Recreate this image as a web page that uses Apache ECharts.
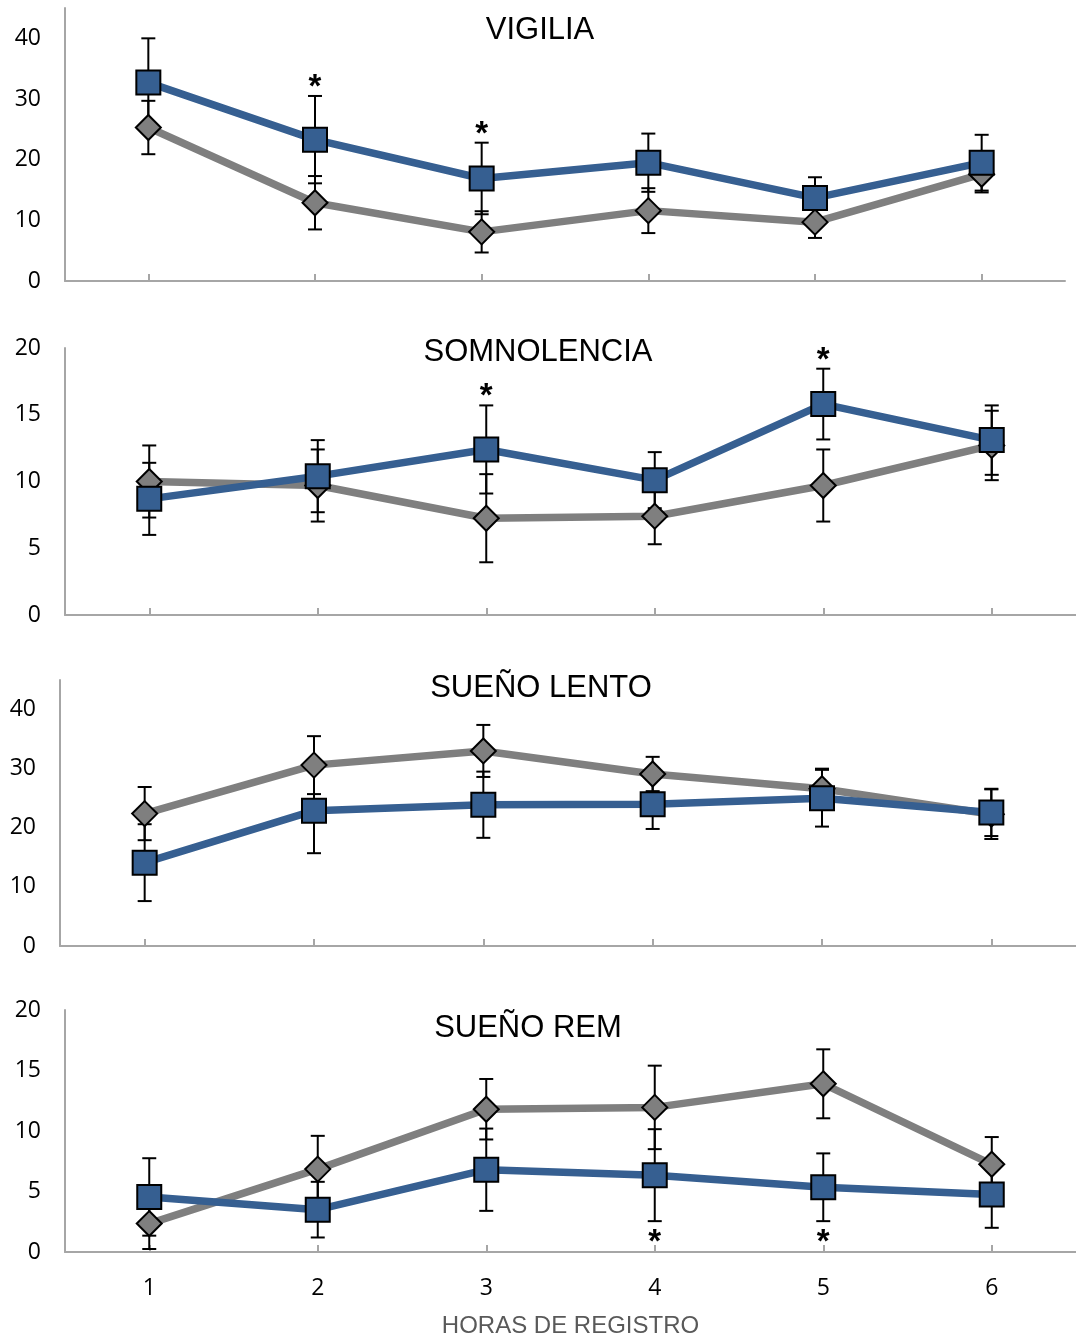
<!DOCTYPE html>
<html>
<head>
<meta charset="utf-8">
<script src="https://cdn.jsdelivr.net/npm/echarts@6/dist/echarts.min.js"></script>
<style>
  html, body { margin: 0; padding: 0; background: #fff; }
  #chart { width: 1076px; height: 1339px; }
</style>
</head>
<body>
<div id="chart"></div>
<script>
// Horas de registro (eje X compartido)
const hours = ['1', '2', '3', '4', '5', '6'];

// VIGILIA
const vigBlue = [32.7, 23.3, 16.9, 19.5, 13.7, 19.5];
const vigBlueErr = [7.3, 7.2, 5.9, 4.8, 3.4, 4.6];
const vigGray = [25.3, 12.9, 8.1, 11.6, 9.7, 17.6];
const vigGrayErr = [4.4, 4.4, 3.4, 3.7, 2.6, 3.0];
const vigSig = [0, 1, 1, 0, 0, 0];

// SOMNOLENCIA
const somBlue = [8.7, 10.4, 12.4, 10.1, 15.8, 13.1];
const somBlueErr = [2.7, 2.7, 3.3, 2.1, 2.65, 2.6];
const somGray = [10.0, 9.7, 7.25, 7.4, 9.7, 12.7];
const somGrayErr = [2.7, 2.7, 3.3, 2.1, 2.7, 2.6];
const somSig = [0, 0, 1, 0, 1, 0];

// SUEÑO LENTO
const lenBlue = [14.1, 22.9, 23.9, 24.0, 25.0, 22.6];
const lenBlueErr = [6.5, 7.2, 5.6, 4.2, 4.8, 4.0];
const lenGray = [22.4, 30.6, 33.0, 29.1, 26.6, 22.3];
const lenGrayErr = [4.5, 4.9, 4.4, 2.9, 3.4, 4.2];
const lenSig = [0, 0, 0, 0, 0, 0];

// SUEÑO REM
const remBlue = [4.55, 3.5, 6.8, 6.35, 5.35, 4.75];
const remBlueErr = [3.2, 2.3, 3.4, 3.8, 2.8, 2.75];
const remGray = [2.35, 6.85, 11.8, 11.95, 13.9, 7.25];
const remGrayErr = [2.1, 2.75, 2.5, 3.45, 2.85, 2.25];
const remSig = [0, 0, 0, 1, 1, 0];

// Ticks del eje Y
const yTicksLarge = { max: 45, interval: 10 };
const yTicksSmall = { max: 20, interval: 5 };

const BLUE = '#365F91';
const GRAY = '#7F7F7F';
const AXIS = '#A6A6A6';

const panels = [
  { title: 'VIGILIA', blue: vigBlue, blueErr: vigBlueErr, gray: vigGray, grayErr: vigGrayErr,
    sig: vigSig, sigSide: 'above', ticks: yTicksLarge,
    grid: { left: 65, right: 11, top: 8, height: 273 }, titleAt: [540, 30] },
  { title: 'SOMNOLENCIA', blue: somBlue, blueErr: somBlueErr, gray: somGray, grayErr: somGrayErr,
    sig: somSig, sigSide: 'above', ticks: yTicksSmall,
    grid: { left: 65, right: -4, top: 348, height: 267 }, titleAt: [538, 352] },
  { title: 'SUEÑO LENTO', blue: lenBlue, blueErr: lenBlueErr, gray: lenGray, grayErr: lenGrayErr,
    sig: lenSig, sigSide: 'above', ticks: yTicksLarge,
    grid: { left: 60, right: -5, top: 680, height: 266 }, titleAt: [541, 688] },
  { title: 'SUEÑO REM', blue: remBlue, blueErr: remBlueErr, gray: remGray, grayErr: remGrayErr,
    sig: remSig, sigSide: 'below', ticks: yTicksSmall,
    grid: { left: 65, right: 0, top: 1010, height: 242 }, titleAt: [528, 1028] }
];

const labelFont = '"Open Sans", "Noto Sans", sans-serif';

function renderErrorBar(params, api) {
  const i = api.value(0);
  const lo = api.coord([i, api.value(1)]);
  const hi = api.coord([i, api.value(2)]);
  const cap = 7;
  const st = { stroke: '#000', lineWidth: 2 };
  return {
    type: 'group',
    children: [
      { type: 'line', shape: { x1: lo[0], y1: lo[1], x2: hi[0], y2: hi[1] }, style: st },
      { type: 'line', shape: { x1: lo[0] - cap, y1: lo[1], x2: lo[0] + cap, y2: lo[1] }, style: st },
      { type: 'line', shape: { x1: hi[0] - cap, y1: hi[1], x2: hi[0] + cap, y2: hi[1] }, style: st }
    ]
  };
}

function renderStar(params, api) {
  const i = api.value(0);
  const p = api.coord([i, api.value(1)]);
  const dir = api.value(2);
  const dy = dir > 0 ? -16 : 14;
  return {
    type: 'text',
    x: p[0],
    y: p[1] + dy + 8,
    style: {
      text: '*',
      textAlign: 'center',
      textVerticalAlign: 'middle',
      font: 'bold 33px "Liberation Sans", Arial, sans-serif',
      fill: '#000'
    }
  };
}

const grids = [], xAxes = [], yAxes = [], series = [], graphics = [];

panels.forEach((p, k) => {
  const last = k === panels.length - 1;
  grids.push(p.grid);
  xAxes.push({
    type: 'category', gridIndex: k, data: hours, boundaryGap: true,
    axisLine: { show: true, lineStyle: { color: AXIS, width: 2 } },
    axisTick: { show: true, alignWithLabel: true, inside: true, length: 7, lineStyle: { color: AXIS, width: 2 } },
    axisLabel: { show: last, margin: 25, fontSize: 23, color: '#000', fontFamily: labelFont },
    name: last ? 'HORAS DE REGISTRO' : '',
    nameLocation: 'middle', nameGap: 62,
    nameTextStyle: { fontSize: 24, color: '#595959', fontFamily: '"Liberation Sans", Arial, sans-serif' }
  });
  const iv = p.ticks.interval;
  yAxes.push({
    type: 'value', gridIndex: k, min: 0, max: p.ticks.max, interval: iv,
    axisLine: { show: true, lineStyle: { color: AXIS, width: 2 } },
    axisTick: { show: false },
    splitLine: { show: false },
    axisLabel: {
      margin: 24, fontSize: 23, color: '#000', fontFamily: labelFont,
      formatter: v => (v % iv === 0 ? String(v) : '')
    }
  });

  const errData = (m, e) => m.map((v, i) => [i, v - e[i], v + e[i]]);
  series.push({
    type: 'custom', xAxisIndex: k, yAxisIndex: k, z: 1, silent: true,
    renderItem: renderErrorBar, data: errData(p.gray, p.grayErr), encode: { x: 0, y: [1, 2] }
  });
  series.push({
    type: 'custom', xAxisIndex: k, yAxisIndex: k, z: 1, silent: true,
    renderItem: renderErrorBar, data: errData(p.blue, p.blueErr), encode: { x: 0, y: [1, 2] }
  });
  series.push({
    type: 'line', xAxisIndex: k, yAxisIndex: k, z: 2, silent: true,
    data: p.gray, symbol: 'diamond', symbolSize: 25, showSymbol: true,
    lineStyle: { color: GRAY, width: 7.5 },
    itemStyle: { color: GRAY, borderColor: '#000', borderWidth: 2 },
    emphasis: { disabled: true }
  });
  series.push({
    type: 'line', xAxisIndex: k, yAxisIndex: k, z: 3, silent: true,
    data: p.blue, symbol: 'rect', symbolSize: 24, showSymbol: true,
    lineStyle: { color: BLUE, width: 7.5 },
    itemStyle: { color: BLUE, borderColor: '#000', borderWidth: 2 },
    emphasis: { disabled: true }
  });
  // asteriscos de significancia sobre/bajo la barra de error de la serie azul
  const starData = [];
  p.sig.forEach((s, i) => {
    if (!s) return;
    if (p.sigSide === 'above') starData.push([i, p.blue[i] + p.blueErr[i], 1]);
    else starData.push([i, p.blue[i] - p.blueErr[i], -1]);
  });
  series.push({
    type: 'custom', xAxisIndex: k, yAxisIndex: k, z: 4, silent: true,
    renderItem: renderStar, data: starData, encode: { x: 0, y: 1 }
  });

  graphics.push({
    type: 'text', x: p.titleAt[0], y: p.titleAt[1], silent: true,
    style: {
      text: p.title, textAlign: 'center', textVerticalAlign: 'middle',
      font: '31px "Liberation Sans", Arial, sans-serif', fill: '#000'
    }
  });
});

const chart = echarts.init(document.getElementById('chart'), null, { renderer: 'canvas' });
chart.setOption({
  animation: false,
  backgroundColor: '#fff',
  grid: grids,
  xAxis: xAxes,
  yAxis: yAxes,
  series: series,
  graphic: graphics
});
</script>
</body>
</html>
